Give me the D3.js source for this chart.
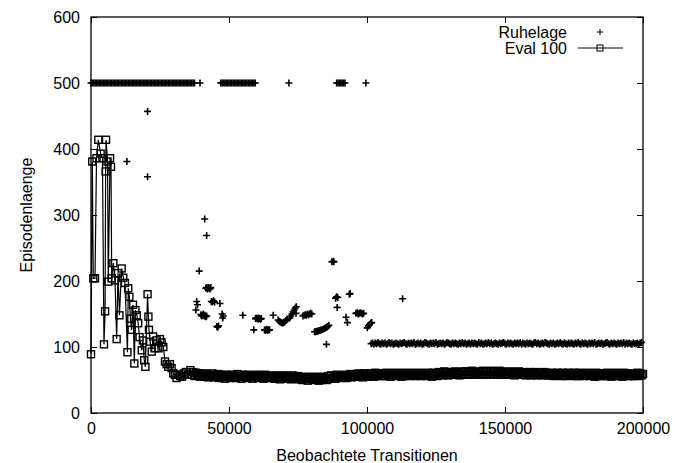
<!DOCTYPE html>
<html>
<head>
<meta charset="utf-8">
<script src="https://cdn.jsdelivr.net/npm/d3@7"></script>
<style>
  body { margin: 0; background: #fff; }
  text { font-family: "Liberation Sans", Arial, sans-serif; font-size: 16px; fill: #000; }
</style>
</head>
<body>
<div id="plot"></div>
<script>
// Ruhelage: episodes that hit the 500 step limit (x positions, y = 500)
const stepLimit = 500;
const ruheCappedX = [
  0,500,1000,1500,2000,2500,3000,3500,4000,4500,5000,5500,6000,6500,7000,7500,8000,8500,9000,9500,
  10000,10500,11000,11500,12000,12500,13000,13500,14000,14500,15000,15500,16000,16500,17000,17500,18000,18500,19000,19500,
  20000,20500,21000,21500,22000,22500,23000,23500,24000,24500,25000,25500,26000,26500,27000,27500,28000,28500,29000,29500,
  30000,30500,31000,31500,32000,32500,33000,33500,34000,34500,35000,35500,36000,36500,37000,37500,39500,
  47000,47500,48000,48500,49000,49500,50000,50500,51000,51500,52000,52500,53000,53500,54000,54500,55000,55500,
  56000,56500,57000,57500,58000,58500,59000,59500,
  71700,89000,89500,90000,90500,91000,91500,92000,99600
];

// Ruhelage: scattered episodes
const ruheScatter = [
  [13000,381],[20500,457],[20500,358],
  [38000,156],[38300,169],[38600,164],[39200,215],[41200,294],[41900,269],
  [39800,149],[40100,147],[40400,148],[40700,150],[41000,147],[41300,148],[41600,146],[41900,147],
  [41600,189],[41900,190],[42200,188],[42500,190],[42800,189],[43100,188],[43400,190],
  [43600,169],[44000,168],[44400,170],[44800,168],[46700,166],
  [45600,131],[45900,130],[46200,132],
  [47500,150],[47700,144],[47900,147],[55000,148],
  [59600,143],[59900,144],[60200,143],[60500,142],[60800,144],[61100,143],[61400,142],[61700,143],
  [59000,126],
  [62900,126],[63200,125],[63500,126],[63800,127],[64100,125],[64400,126],[64700,126],
  [66000,148],
  [67800,141],[68200,139],[68600,138],[69000,137],[69400,136],[69800,137],[70200,138],[70600,140],[71000,142],
  [72000,144],[72400,147],[72800,150],[73200,153],[73600,156],[74000,159],[74400,161],
  [74300,151],
  [76800,147],[77200,148],[77600,149],[78000,148],[78400,150],[78800,149],[79200,150],[79600,151],[80000,150],
  [81000,123],[81400,123],[81800,124],[82200,124],[82600,125],[83000,125],[83400,126],[83800,126],[84200,127],
  [84600,128],[85000,129],[85400,130],[85800,131],[86200,133],
  [85300,104],
  [87300,229],[87700,230],[88000,229],
  [88600,174],[89000,176],[89400,175],[89200,160],
  [92400,145],[92900,137],[93600,180],[93900,181],
  [96000,151],[96400,152],[96800,150],[97200,151],[97600,152],[98000,151],[98400,150],[98800,151],
  [100100,129],[100500,132],[100900,134],[101300,136],[101700,137],
  [112900,173]
];

// Ruhelage: converged episodes, about 105 steps
const ruheBand = [
  [101500,105],[102000,106],[102500,104],[103000,106],[103500,105],[104000,107],[104500,105],[105000,104],[105500,106],[106000,105],
  [106500,106],[107000,104],[107500,105],[108000,107],[108500,105],[109000,106],[109500,104],[110000,105],[110500,106],[111000,105],
  [111500,104],[112000,106],[112500,105],[113000,106],[113500,107],[114000,105],[114500,104],[115000,106],[115500,105],[116000,106],
  [116500,105],[117000,107],[117500,104],[118000,105],[118500,106],[119000,105],[119500,106],[120000,104],[120500,105],[121000,107],
  [121500,106],[122000,105],[122500,104],[123000,106],[123500,105],[124000,106],[124500,105],[125000,107],[125500,104],[126000,105],
  [126500,106],[127000,105],[127500,106],[128000,104],[128500,105],[129000,107],[129500,106],[130000,105],[130500,104],[131000,106],
  [131500,105],[132000,106],[132500,105],[133000,104],[133500,106],[134000,105],[134500,107],[135000,105],[135500,106],[136000,104],
  [136500,105],[137000,106],[137500,104],[138000,106],[138500,105],[139000,106],[139500,105],[140000,104],[140500,107],[141000,105],
  [141500,106],[142000,104],[142500,105],[143000,106],[143500,105],[144000,107],[144500,105],[145000,106],[145500,104],[146000,105],
  [146500,106],[147000,105],[147500,104],[148000,106],[148500,105],[149000,106],[149500,107],[150000,105],[150500,104],[151000,106],
  [151500,105],[152000,106],[152500,105],[153000,104],[153500,106],[154000,105],[154500,106],[155000,105],[155500,107],[156000,104],
  [156500,106],[157000,105],[157500,104],[158000,106],[158500,105],[159000,106],[159500,105],[160000,104],[160500,106],[161000,107],
  [161500,105],[162000,106],[162500,104],[163000,105],[163500,106],[164000,105],[164500,107],[165000,106],[165500,105],[166000,104],
  [166500,106],[167000,105],[167500,106],[168000,104],[168500,105],[169000,106],[169500,105],[170000,107],[170500,105],[171000,104],
  [171500,106],[172000,105],[172500,104],[173000,106],[173500,105],[174000,106],[174500,105],[175000,104],[175500,106],[176000,105],
  [176500,107],[177000,105],[177500,104],[178000,106],[178500,105],[179000,106],[179500,105],[180000,104],[180500,106],[181000,105],
  [181500,106],[182000,105],[182500,107],[183000,104],[183500,105],[184000,106],[184500,105],[185000,106],[185500,104],[186000,105],
  [186500,106],[187000,107],[187500,105],[188000,104],[188500,106],[189000,105],[189500,106],[190000,105],[190500,104],[191000,106],
  [191500,105],[192000,106],[192500,105],[193000,107],[193500,104],[194000,106],[194500,105],[195000,106],[195500,105],[196000,104],
  [196500,106],[197000,105],[197500,105],[198000,106],[198500,104],[199000,106],[199500,107]
];

// Eval 100: early, noisy phase
const evalEarly = [
  [0,89],[470,381],[830,204],[1450,204],[2000,386],[2650,414],[3500,393],[4150,386],[4700,104],[5100,154],
  [5300,366],[5450,414],[6000,381],[6250,199],[6900,386],[7250,373],[7500,204],[8100,227],[8700,201],[9300,112],
  [9800,212],[10300,148],[11100,219],[11700,205],[12300,197],[13200,92],[13500,189],[13900,176],[14300,143],[14700,126],
  [15200,164],[15700,75],[16100,156],[16600,148],[17100,136],[17600,115],[18400,95],[18800,110],[19300,80],[19700,70],
  [20500,180],[20800,146],[21000,126],[21400,108],[22000,93],[22500,116],[23000,98],[23800,110],[24400,98],[25000,112],
  [25600,107],[26200,100],[26800,78],[27400,74],[28000,70],[28600,74],[29200,68],[29800,60],[30400,58],[31000,53],
  [31700,58],[32300,56],[33000,55],[33700,60],[34400,62],[35100,58]
];

// Eval 100: converged phase
const evalLate = [
  [36000,65],[36500,58],[37000,62],[37500,56],[38000,61],[38500,57],[39000,60],[39500,55],[40000,59],[40500,56],
  [41000,60],[41500,55],[42000,59],[42500,54],[43000,58],[43500,56],[44000,60],[44500,54],[45000,57],[45500,55],
  [46000,59],[46500,53],[47000,58],[47500,55],[48000,57],[48500,52],[49000,58],[49500,54],[50000,57],[50500,53],
  [51000,58],[51500,54],[52000,57],[52500,53],[53000,59],[53500,55],[54000,56],[54500,52],[55000,58],[55500,54],
  [56000,57],[56500,53],[57000,58],[57500,54],[58000,56],[58500,52],[59000,57],[59500,55],[60000,58],[60500,53],
  [61000,57],[61500,54],[62000,56],[62500,52],[63000,58],[63500,53],[64000,57],[64500,54],[65000,56],[65500,53],
  [66000,56],[66500,52],[67000,57],[67500,53],[68000,55],[68500,51],[69000,56],[69500,54],[70000,57],[70500,52],
  [71000,56],[71500,53],[72000,55],[72500,51],[73000,57],[73500,52],[74000,55],[74500,53],[75000,56],[75500,51],
  [76000,54],[76500,50],[77000,55],[77500,51],[78000,53],[78500,49],[79000,54],[79500,52],[80000,55],[80500,50],
  [81000,54],[81500,51],[82000,53],[82500,49],[83000,55],[83500,50],[84000,54],[84500,51],[85000,53],[85500,50],
  [86000,56],[86500,52],[87000,57],[87500,53],[88000,55],[88500,52],[89000,58],[89500,54],[90000,56],[90500,53],
  [91000,57],[91500,54],[92000,58],[92500,53],[93000,57],[93500,55],[94000,59],[94500,54],[95000,57],[95500,55],
  [96000,59],[96500,55],[97000,60],[97500,56],[98000,58],[98500,54],[99000,60],[99500,56],[100000,59],[100500,55],
  [101000,60],[101500,56],[102000,59],[102500,55],[103000,61],[103500,57],[104000,60],[104500,56],[105000,59],[105500,56],
  [106000,60],[106500,56],[107000,61],[107500,57],[108000,59],[108500,55],[109000,60],[109500,57],[110000,61],[110500,56],
  [111000,60],[111500,57],[112000,59],[112500,55],[113000,61],[113500,56],[114000,60],[114500,57],[115000,59],[115500,56],
  [116000,61],[116500,57],[117000,60],[117500,56],[118000,59],[118500,57],[119000,61],[119500,56],[120000,60],[120500,57],
  [121000,60],[121500,56],[122000,61],[122500,57],[123000,60],[123500,55],[124000,61],[124500,57],[125000,60],[125500,56],
  [126000,62],[126500,58],[127000,61],[127500,57],[128000,63],[128500,58],[129000,62],[129500,57],[130000,61],[130500,58],
  [131000,62],[131500,58],[132000,63],[132500,59],[133000,61],[133500,57],[134000,62],[134500,58],[135000,63],[135500,59],
  [136000,63],[136500,58],[137000,62],[137500,59],[138000,64],[138500,58],[139000,62],[139500,60],[140000,63],[140500,58],
  [141000,62],[141500,59],[142000,64],[142500,58],[143000,63],[143500,59],[144000,62],[144500,58],[145000,64],[145500,59],
  [146000,63],[146500,59],[147000,62],[147500,58],[148000,64],[148500,60],[149000,63],[149500,58],[150000,62],[150500,59],
  [151000,62],[151500,58],[152000,63],[152500,59],[153000,61],[153500,57],[154000,62],[154500,59],[155000,63],[155500,58],
  [156000,61],[156500,58],[157000,62],[157500,57],[158000,61],[158500,59],[159000,62],[159500,57],[160000,61],[160500,58],
  [161000,62],[161500,57],[162000,61],[162500,58],[163000,60],[163500,57],[164000,62],[164500,58],[165000,61],[165500,57],
  [166000,60],[166500,57],[167000,61],[167500,56],[168000,60],[168500,58],[169000,61],[169500,57],[170000,60],[170500,56],
  [171000,61],[171500,57],[172000,60],[172500,56],[173000,61],[173500,57],[174000,60],[174500,58],[175000,61],[175500,56],
  [176000,60],[176500,56],[177000,61],[177500,57],[178000,59],[178500,56],[179000,60],[179500,57],[180000,61],[180500,56],
  [181000,60],[181500,57],[182000,59],[182500,55],[183000,61],[183500,56],[184000,60],[184500,57],[185000,59],[185500,56],
  [186000,60],[186500,56],[187000,61],[187500,57],[188000,59],[188500,55],[189000,60],[189500,56],[190000,61],[190500,57],
  [191000,59],[191500,56],[192000,60],[192500,55],[193000,61],[193500,57],[194000,60],[194500,56],[195000,59],[195500,56],
  [196000,60],[196500,56],[197000,59],[197500,57],[198000,61],[198500,56],[199000,60],[199500,57],[200000,59]
];

const xTicks = [0, 50000, 100000, 150000, 200000];
const yTicks = [0, 100, 200, 300, 400, 500, 600];
const seriesNames = ["Ruhelage", "Eval 100"];
const xTitle = "Beobachtete Transitionen";
const yTitle = "Episodenlaenge";

const ruhelage = ruheCappedX.map(v => [v, stepLimit])
  .concat(ruheScatter, ruheBand)
  .map(d => ({x: d[0], y: d[1]}));
const evalSeries = evalEarly.concat(evalLate).map(d => ({x: d[0], y: d[1]}));

const width = 675, height = 463;
const margin = {left: 91, right: 32, top: 17, bottom: 50};
const tick = 6;

const x = d3.scaleLinear().domain([0, 200000]).range([margin.left, width - margin.right]);
const y = d3.scaleLinear().domain([0, 600]).range([height - margin.bottom, margin.top]);

const svg = d3.select("#plot").append("svg")
  .attr("width", width)
  .attr("height", height);

const plusPath = "M-3.5,0H3.5M0,-3.5V3.5";

// axes with inward ticks, mirrored on top and right
svg.append("g")
  .attr("transform", `translate(0,${y(0)})`)
  .call(d3.axisBottom(x).tickValues(xTicks).tickSize(-tick).tickSizeOuter(0).tickPadding(10).tickFormat(d3.format("d")))
  .call(g => g.select(".domain").remove());

svg.append("g")
  .attr("transform", `translate(0,${y(600)})`)
  .call(d3.axisTop(x).tickValues(xTicks).tickSize(-tick).tickSizeOuter(0).tickFormat(""))
  .call(g => g.select(".domain").remove());

svg.append("g")
  .attr("transform", `translate(${x(0)},0)`)
  .call(d3.axisLeft(y).tickValues(yTicks).tickSize(-tick).tickSizeOuter(0).tickPadding(11).tickFormat(d3.format("d")))
  .call(g => g.select(".domain").remove());

svg.append("g")
  .attr("transform", `translate(${x(200000)},0)`)
  .call(d3.axisRight(y).tickValues(yTicks).tickSize(-tick).tickSizeOuter(0).tickFormat(""))
  .call(g => g.select(".domain").remove());

svg.selectAll(".tick text")
  .style("font-family", '"Liberation Sans", Arial, sans-serif')
  .style("font-size", "16px")
  .attr("fill", "#000");
svg.selectAll(".tick line").attr("stroke", "#000");

svg.append("rect")
  .attr("x", x(0))
  .attr("y", y(600))
  .attr("width", x(200000) - x(0))
  .attr("height", y(0) - y(600))
  .attr("fill", "none")
  .attr("stroke", "#000")
  .attr("stroke-width", 1.3);

// Ruhelage points
svg.append("g")
  .selectAll("path")
  .data(ruhelage)
  .join("path")
  .attr("transform", d => `translate(${x(d.x)},${y(d.y)})`)
  .attr("d", plusPath)
  .attr("stroke", "#000")
  .attr("stroke-width", 1.6)
  .attr("fill", "none");

// Eval 100 line + squares
const line = d3.line().x(d => x(d.x)).y(d => y(d.y));
svg.append("path")
  .datum(evalSeries)
  .attr("d", line)
  .attr("fill", "none")
  .attr("stroke", "#000")
  .attr("stroke-width", 1.2);

svg.append("g")
  .selectAll("rect")
  .data(evalSeries)
  .join("rect")
  .attr("x", d => x(d.x) - 3.5)
  .attr("y", d => y(d.y) - 3.5)
  .attr("width", 7)
  .attr("height", 7)
  .attr("fill", "none")
  .attr("stroke", "#000")
  .attr("stroke-width", 1.4);

// axis titles
svg.append("text")
  .attr("x", (x(0) + x(200000)) / 2)
  .attr("y", 461)
  .attr("text-anchor", "middle")
  .text(xTitle);

svg.append("text")
  .attr("transform", `translate(32,${(y(0) + y(600)) / 2}) rotate(-90)`)
  .attr("text-anchor", "middle")
  .text(yTitle);

// legend
const legend = svg.append("g");
legend.append("text").attr("x", 567).attr("y", 37.5).attr("text-anchor", "end").text(seriesNames[0]);
legend.append("path")
  .attr("transform", "translate(600,32)")
  .attr("d", "M-3,0H3M0,-3V3")
  .attr("stroke", "#000")
  .attr("stroke-width", 1);
legend.append("text").attr("x", 567).attr("y", 54).attr("text-anchor", "end").text(seriesNames[1]);
legend.append("line")
  .attr("x1", 578).attr("x2", 623).attr("y1", 48).attr("y2", 48)
  .attr("stroke", "#000");
legend.append("rect")
  .attr("x", 597).attr("y", 45).attr("width", 6).attr("height", 6)
  .attr("fill", "none").attr("stroke", "#000");
</script>
</body>
</html>
